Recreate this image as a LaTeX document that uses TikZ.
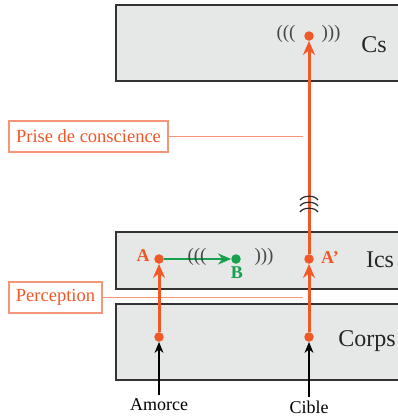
\documentclass[tikz,border=0pt]{standalone}
\usepackage{fontspec}
\setmainfont{Liberation Serif}
\usetikzlibrary{arrows.meta}
\definecolor{rd}{RGB}{240,88,40}
\definecolor{rdl}{RGB}{246,150,120}
\definecolor{gr}{RGB}{22,160,75}
\definecolor{bx}{RGB}{230,231,231}
\definecolor{wv}{RGB}{70,70,70}
\tikzset{
  layer/.style={draw=black!80, line width=1.2pt, fill=bx},
  dot/.style={circle, fill=#1, inner sep=0pt, minimum size=9.5pt},
  redline/.style={draw=rd, line width=3pt, -{Stealth[length=14pt,width=12pt]}},
  lbl/.style={draw=rdl, line width=1.2pt, text=rd, font=\fontsize{18.5}{20}\selectfont, inner xsep=7pt, minimum height=31pt, fill=white},
  lvl/.style={font=\fontsize{24}{26}\selectfont, text=black!85},
  wave/.style={font=\fontsize{19}{21}\selectfont, text=wv},
  tag/.style={font=\bfseries\fontsize{18}{20}\selectfont},
  inp/.style={font=\fontsize{18}{20}\selectfont},
  blk/.style={draw=black, line width=1.1pt, -{Stealth[length=11pt,width=9pt]}},
}
\begin{document}
\begin{tikzpicture}[x=1pt,y=-1pt]
\useasboundingbox (0,0) rectangle (398,418);
% layers
\path[layer] (116,5) rectangle (402,81);
\path[layer] (116,232) rectangle (402,289);
\path[layer] (116,304) rectangle (402,380);
\node[lvl] (cs) at (374,45) {Cs};
\node[lvl] (ics) at (380,260) {Ics};
\node[lvl] (corps) at (367,341) {Corps};
% dots
\node[dot=rd] (c) at (309,36) {};
\node[dot=rd] (a) at (159,259) {};
\node[dot=gr] (b) at (236,259) {};
\node[dot=rd] (ap) at (309,259) {};
\node[dot=rd] (k1) at (159,337) {};
\node[dot=rd] (k2) at (309,337) {};
% label lines
\node[lbl] (pc) at (88.5,136.5) {Prise de conscience};
\node[lbl] (pe) at (55.5,297.5) {Perception};
\coordinate (pcend) at (303,136.5);
\coordinate (peend) at (303,297.5);
\draw[rdl, line width=1.2pt] (pc.east) -- (pcend);
\draw[rdl, line width=1.2pt] (pe.east) -- (peend);
% red arrows
\draw[redline] (k1) -- (a);
\draw[redline] (k2) -- (ap);
\draw[redline] (ap) -- (c);
% green arrow
\draw[gr, line width=2.6pt, -{Stealth[length=13pt,width=11pt]}] (a) -- (b);
% waves
\node[wave] (w1) at (286,34) {(((};
\node[wave] (w2) at (331,34) {)))};
\node[wave] (w3) at (197,257) {(((};
\node[wave] (w4) at (264,257) {)))};
% arcs on line
\foreach \yy in {197,203,209}{
  \draw[black!85, line width=1.2pt] (300,\yy+3) .. controls (303,\yy-2) and (315,\yy-2) .. (318,\yy+3);
}
% tags
\node[tag, text=rd] (ta) at (143,256) {A};
\node[tag, text=gr] (tb) at (237,273) {B};
\node[tag, text=rd] (tap) at (330,258) {A’};
% inputs
\node[inp] (am) at (159,405) {Amorce};
\node[inp] (ci) at (309,407) {Cible};
\draw[blk] (am.north) -- (k1);
\draw[blk] (ci.north) -- (k2);
\end{tikzpicture}
\end{document}
